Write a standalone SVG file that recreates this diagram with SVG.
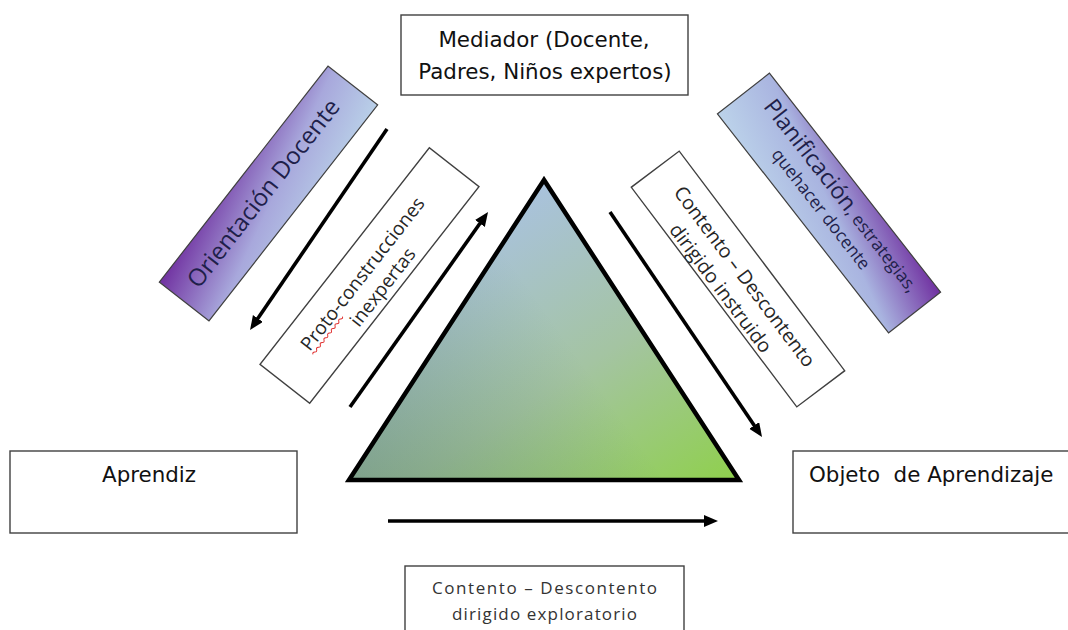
<svg xmlns="http://www.w3.org/2000/svg" width="1068" height="630" viewBox="0 0 1068 630">
  <style>
    .box { fill: #ffffff; stroke: #404040; stroke-width: 1.4; }
    .band { stroke: #404040; stroke-width: 1.2; }
    .main { font-family: "DejaVu Sans", Verdana, sans-serif; font-size: 21.4px; fill: #111111; }
    .rot { font-family: "Open Sans", "Liberation Sans", sans-serif; fill: #262626; }
    .navy { font-family: "Open Sans", "Liberation Sans", sans-serif; fill: #1f1f4a; }
    .thin { font-family: "Open Sans", "Liberation Sans", sans-serif; font-weight: 400; font-size: 17px; fill: #333333; }
    .arrow { stroke: #000000; stroke-width: 3.6; fill: none; marker-end: url(#head); }
  </style>
  <defs>
    <marker id="head" markerUnits="userSpaceOnUse" markerWidth="16" markerHeight="14" refX="2" refY="6" orient="auto">
      <path d="M0,0 L14,6 L0,12 z" fill="#000000"/>
    </marker>
    <linearGradient id="triFill" gradientUnits="userSpaceOnUse" x1="544" y1="180" x2="739" y2="480">
      <stop offset="0" stop-color="#a9c2dd"/>
      <stop offset="0.5" stop-color="#a4c4a2"/>
      <stop offset="1" stop-color="#8fd04c"/>
    </linearGradient>
    <linearGradient id="triShade" gradientUnits="userSpaceOnUse" x1="349" y1="480" x2="560" y2="330">
      <stop offset="0" stop-color="#2e5a44" stop-opacity="0.32"/>
      <stop offset="1" stop-color="#2e5a44" stop-opacity="0"/>
    </linearGradient>
    <linearGradient id="bandLeft" x1="0" y1="0" x2="1" y2="1">
      <stop offset="0" stop-color="#7030a0"/>
      <stop offset="0.55" stop-color="#a8a8dc"/>
      <stop offset="1" stop-color="#b9d0e8"/>
    </linearGradient>
    <linearGradient id="bandRight" x1="0" y1="1" x2="1" y2="0">
      <stop offset="0" stop-color="#bcd3ea"/>
      <stop offset="0.5" stop-color="#a9b4e0"/>
      <stop offset="1" stop-color="#7030a0"/>
    </linearGradient>
    <clipPath id="clipInstr">
      <rect x="-137.5" y="-30" width="275" height="60"/>
    </clipPath>
  </defs>

  <!-- Mediator box -->
  <g id="mediador">
    <rect class="box" x="401" y="15" width="287" height="80"/>
    <text class="main" x="544" y="47" text-anchor="middle">Mediador (Docente,</text>
    <text class="main" x="545" y="79" text-anchor="middle">Padres, Niños expertos)</text>
  </g>

  <!-- Learner box -->
  <g id="aprendiz">
    <rect class="box" x="10" y="451" width="287" height="82"/>
    <text class="main" x="102" y="482">Aprendiz</text>
  </g>

  <!-- Learning object box -->
  <g id="objeto">
    <rect class="box" x="793" y="451" width="290" height="82"/>
    <text class="main" x="809" y="482" style="white-space:pre">Objeto  de Aprendizaje</text>
  </g>

  <!-- Exploratory guidance box -->
  <g id="exploratorio">
    <rect class="box" x="405" y="566" width="279" height="80"/>
    <text class="thin" x="544.5" y="594" text-anchor="middle" textLength="225">Contento – Descontento</text>
    <text class="thin" x="544.5" y="620" text-anchor="middle" textLength="185">dirigido exploratorio</text>
  </g>

  <!-- Teacher orientation band -->
  <g id="orientacion" transform="translate(268.5,193.5) rotate(-52)">
    <rect class="band" x="-137" y="-31.5" width="274" height="63" fill="url(#bandLeft)"/>
    <text class="navy" x="-3" y="4" font-size="24" text-anchor="middle">Orientación Docente</text>
  </g>

  <!-- Proto-constructions box -->
  <g id="proto" transform="translate(369.5,275.5) rotate(-52)">
    <rect class="box" x="-137.5" y="-31.5" width="275" height="63" stroke-width="1.2"/>
    <text class="rot" x="-97" y="0" font-size="19">Proto-construcciones</text>
    <path d="M-97,4 q1.5,-2 3,0 t3,0 t3,0 t3,0 t3,0 t3,0 t3,0 t3,0 t3,0 t3,0 t3,0 t3,0 t3,0 t3,0 t3,0 t3,0" fill="none" stroke="#e03030" stroke-width="1"/>
    <text class="rot" x="-1" y="24" font-size="19" text-anchor="middle">inexpertas</text>
  </g>

  <!-- Planning band -->
  <g id="planificacion" transform="translate(829,203) rotate(52)">
    <rect class="band" x="-139" y="-33" width="278" height="66" fill="url(#bandRight)"/>
    <text class="navy" x="2" y="-7" text-anchor="middle"><tspan font-size="23">Planificación</tspan><tspan font-size="17.5">, estrategias,</tspan></text>
    <text class="navy" x="0" y="16" font-size="17.5" text-anchor="middle">quehacer docente</text>
  </g>

  <!-- Instructed guidance box -->
  <g id="instruido" transform="translate(738,279) rotate(53)">
    <rect class="box" x="-137.5" y="-30" width="275" height="60" stroke-width="1.2"/>
    <g clip-path="url(#clipInstr)">
      <text class="rot" x="2" y="0" font-size="19.5" text-anchor="middle">Contento – Descontento</text>
      <text class="rot" x="-3" y="26" font-size="19.5" text-anchor="middle">dirigido instruido</text>
    </g>
  </g>

  <!-- Central triangle -->
  <g id="triangulo">
    <polygon points="544,180 349,480 739,480" fill="url(#triFill)"/>
    <polygon points="544,180 349,480 739,480" fill="url(#triShade)" stroke="#000000" stroke-width="4.5" stroke-linejoin="miter"/>
  </g>

  <!-- Connectors -->
  <g id="connectors">
    <line class="arrow" x1="387" y1="129" x2="256.8" y2="320.1"/>
    <line class="arrow" x1="350" y1="407" x2="481.1" y2="221.8"/>
    <line class="arrow" x1="610" y1="212" x2="755.3" y2="427.1"/>
    <line class="arrow" x1="388" y1="521" x2="706" y2="521"/>
  </g>
</svg>
